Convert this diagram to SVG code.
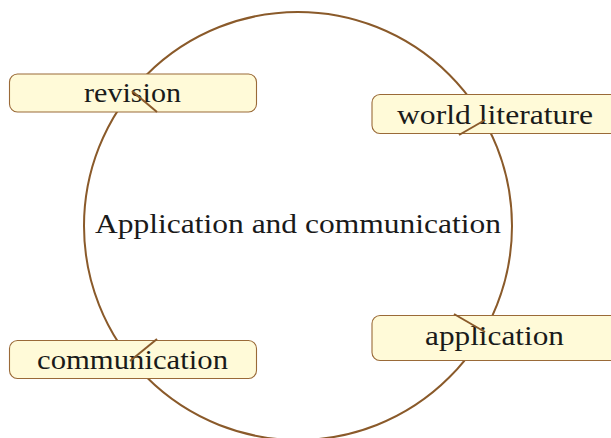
<svg xmlns="http://www.w3.org/2000/svg" width="611" height="438" viewBox="0 0 611 438">
<style>
.box{fill:#fffad8;stroke:#9a6a38;stroke-width:1.1}
.t{font-family:"Liberation Serif","DejaVu Serif",serif;font-size:27px;fill:#1a1a1a}
.c{fill:none;stroke:#8a5a2a;stroke-width:2}
.pin{stroke:#8a5a2a;stroke-width:2;fill:none}
</style>
<rect width="611" height="438" fill="#ffffff"/>
<g id="center">
<circle class="c" cx="298" cy="226" r="214"/>
<text class="t" x="95" y="233" textLength="406" lengthAdjust="spacingAndGlyphs">Application and communication</text>
</g>
<g id="revision">
<rect class="box" x="9.5" y="74" width="247" height="38" rx="8"/>
<text class="t" x="84" y="102" textLength="97" lengthAdjust="spacingAndGlyphs">revision</text>
</g>
<g id="world-literature">
<rect class="box" x="372" y="94.5" width="250" height="39" rx="8"/>
<text class="t" x="397" y="124" textLength="196" lengthAdjust="spacingAndGlyphs">world literature</text>
</g>
<g id="application">
<rect class="box" x="372" y="315.5" width="250" height="45" rx="8"/>
<text class="t" x="425" y="345" textLength="139" lengthAdjust="spacingAndGlyphs">application</text>
</g>
<g id="communication">
<rect class="box" x="9.5" y="340.5" width="247" height="38" rx="8"/>
<text class="t" x="37" y="369" textLength="191" lengthAdjust="spacingAndGlyphs">communication</text>
</g>
<g id="connectors">
<line class="pin" x1="132" y1="91" x2="157" y2="112"/>
<line class="pin" x1="485" y1="120" x2="459" y2="135"/>
<line class="pin" x1="454" y1="314" x2="485" y2="332"/>
<line class="pin" x1="130" y1="361" x2="157" y2="339"/>
</g>
</svg>
